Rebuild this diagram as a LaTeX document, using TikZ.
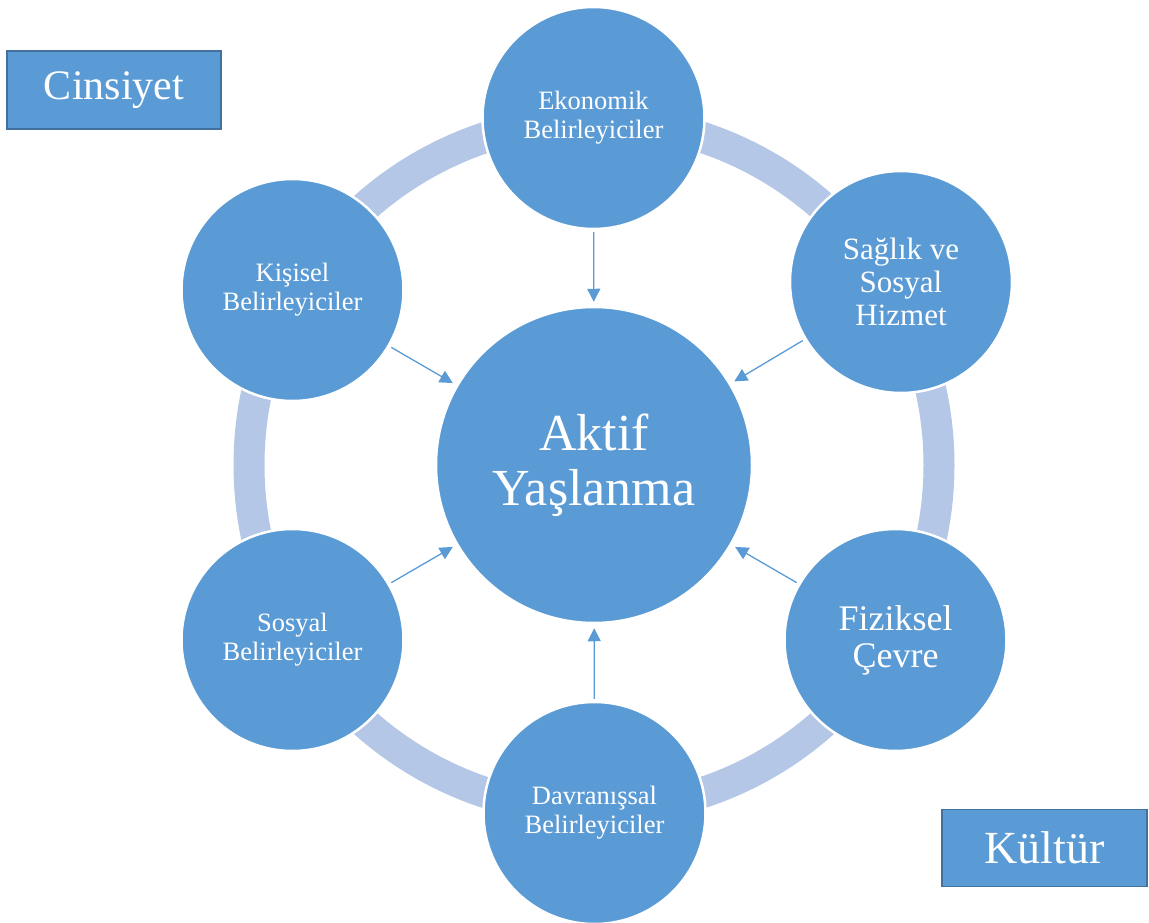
\documentclass[tikz,border=0pt]{standalone}
\usepackage{fontspec}
\setmainfont{Liberation Serif}
\usepackage{xcolor}
\definecolor{cblue}{HTML}{5B9BD5}
\definecolor{cring}{HTML}{B4C7E7}
\definecolor{cedge}{HTML}{41719C}
\usetikzlibrary{arrows.meta}

\begin{document}
\begin{tikzpicture}[
  x=1pt,y=-1pt,
  hub/.style={circle,fill=cblue,draw=white,line width=2.5pt,minimum size=316pt,inner sep=0pt,align=center,text=white,font=\fontsize{52}{55}\selectfont},
  sat/.style={circle,fill=cblue,draw=white,line width=2.5pt,minimum size=222pt,inner sep=0pt,align=center,text=white,font=\fontsize{26.5}{29}\selectfont},
  satbig/.style={sat,font=\fontsize{31}{33}\selectfont},
  tag/.style={rectangle,fill=cblue,draw=cedge,line width=1.8pt,inner sep=0pt,text=white},
  ring/.style={draw=cring,line width=31pt},
  arr/.style={-{Triangle[length=13pt,width=13pt]},draw=cblue,line width=1.3pt,shorten <=2pt,shorten >=4pt}
]
\useasboundingbox (0,0) rectangle (1149,923);
\coordinate (mid) at (594,465);
\draw[ring] (mid) circle[radius=345pt];
% centre
\node[hub] (akt) at (mid) {Aktif\\Yaşlanma};
% factors round the ring
\node[sat] (eko) at (593.5,118) {Ekonomik\\Belirleyiciler};
\node[satbig] (sag) at (901,282) {Sağlık ve\\Sosyal\\Hizmet};
\node[satbig,font=\fontsize{36}{37}\selectfont] (fiz) at (895.5,640) {Fiziksel\\Çevre};
\node[sat] (dav) at (594.5,813) {Davranışsal\\Belirleyiciler};
\node[sat] (sos) at (292.5,640) {Sosyal\\Belirleyiciler};
\node[sat] (kis) at (292.5,290) {Kişisel\\Belirleyiciler};
% cross-cutting
\node[tag,minimum width=214pt,minimum height=78pt,font=\fontsize{42}{44}\selectfont] (cin) at (114,90) {Cinsiyet};
\node[tag,minimum width=205pt,minimum height=77pt,font=\fontsize{46}{48}\selectfont] (kul) at (1044.5,848) {Kültür};
\foreach \f in {eko,sag,fiz,dav,sos,kis}
  \draw[arr] (\f) -- (akt);
\end{tikzpicture}
\end{document}
